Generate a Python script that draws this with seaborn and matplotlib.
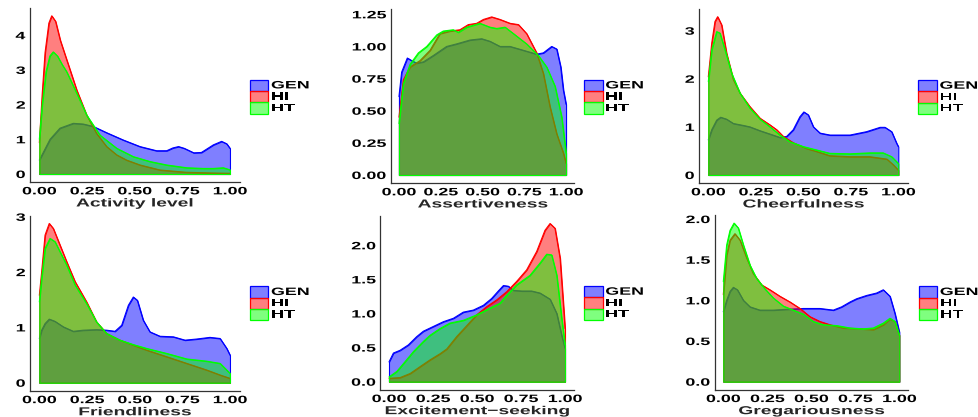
import matplotlib
matplotlib.use("Agg")
import matplotlib.pyplot as plt
import matplotlib.colors as mcolors
import pandas as pd
import seaborn as sns
from matplotlib.patches import Rectangle
from matplotlib.patheffects import AbstractPathEffect
from matplotlib.transforms import Affine2D

# ---------------------------------------------------------------- data
groups = ["GEN", "HI", "HT"]
group_colors = ["#0000FF", "#FF0000", "#00FF00"]

x_tick_values = [0.0, 0.25, 0.5, 0.75, 1.0]
x_tick_labels = ["0.00", "0.25", "0.50", "0.75", "1.00"]

# Activity level
activity_gen_x = [0, 0.056, 0.108, 0.178, 0.23, 0.283, 0.353, 0.44, 0.528, 0.615, 0.668, 0.70, 0.73, 0.76, 0.81, 0.85, 0.913, 0.956, 0.983, 1.0]
activity_gen_y = [0.40, 1.0, 1.32, 1.46, 1.44, 1.37, 1.19, 0.98, 0.79, 0.67, 0.67, 0.75, 0.79, 0.74, 0.61, 0.62, 0.84, 0.94, 0.87, 0.74]
activity_hi_x = [0, 0.015, 0.03, 0.05, 0.065, 0.085, 0.11, 0.143, 0.196, 0.248, 0.30, 0.353, 0.406, 0.458, 0.528, 0.633, 0.77, 0.9, 1.0]
activity_hi_y = [0.9, 2.3, 3.5, 4.35, 4.56, 4.4, 3.85, 3.3, 2.42, 1.70, 1.17, 0.79, 0.55, 0.40, 0.26, 0.115, 0.05, 0.03, 0.02]
activity_ht_x = [0, 0.015, 0.035, 0.055, 0.073, 0.095, 0.12, 0.143, 0.196, 0.248, 0.318, 0.406, 0.493, 0.58, 0.668, 0.773, 0.86, 0.913, 0.965, 1.0]
activity_ht_y = [1.0, 2.0, 2.95, 3.4, 3.52, 3.4, 3.15, 2.95, 2.33, 1.70, 1.12, 0.74, 0.50, 0.36, 0.26, 0.18, 0.16, 0.16, 0.18, 0.12]
activity_ticks = [0, 1, 2, 3, 4]
activity_tick_labels = ["0", "1", "2", "3", "4"]

# Assertiveness
assert_gen_x = [0, 0.016, 0.05, 0.076, 0.106, 0.146, 0.206, 0.285, 0.345, 0.425, 0.495, 0.545, 0.605, 0.665, 0.745, 0.824, 0.864, 0.914, 0.944, 0.968, 0.984, 1.0]
assert_gen_y = [0.61, 0.80, 0.91, 0.89, 0.87, 0.88, 0.93, 1.0, 1.02, 1.05, 1.06, 1.04, 1.0, 1.0, 0.97, 0.94, 0.95, 1.0, 0.98, 0.84, 0.66, 0.55]
assert_hi_x = [0, 0.026, 0.066, 0.126, 0.186, 0.245, 0.305, 0.365, 0.415, 0.465, 0.505, 0.555, 0.605, 0.665, 0.715, 0.764, 0.824, 0.864, 0.904, 0.944, 0.984, 1.0]
assert_hi_y = [0.45, 0.74, 0.84, 0.89, 0.97, 1.10, 1.12, 1.13, 1.17, 1.18, 1.21, 1.23, 1.21, 1.18, 1.17, 1.10, 0.95, 0.79, 0.53, 0.32, 0.17, 0.09]
assert_ht_x = [0, 0.026, 0.066, 0.116, 0.166, 0.226, 0.265, 0.325, 0.355, 0.405, 0.485, 0.545, 0.585, 0.635, 0.685, 0.764, 0.834, 0.884, 0.934, 0.974, 1.0]
assert_ht_y = [0.40, 0.71, 0.86, 0.95, 1.0, 1.09, 1.12, 1.13, 1.11, 1.15, 1.18, 1.15, 1.14, 1.15, 1.10, 1.02, 0.93, 0.84, 0.69, 0.45, 0.17]
assert_ticks = [0, 0.25, 0.5, 0.75, 1.0, 1.25]
assert_tick_labels = ["0.00", "0.25", "0.50", "0.75", "1.00", "1.25"]

# Cheerfulness
cheer_gen_x = [0, 0.018, 0.044, 0.065, 0.096, 0.132, 0.184, 0.219, 0.272, 0.325, 0.377, 0.412, 0.447, 0.482, 0.503, 0.526, 0.553, 0.588, 0.64, 0.746, 0.833, 0.904, 0.93, 0.965, 0.991, 1.0]
cheer_gen_y = [0.73, 0.94, 1.14, 1.20, 1.16, 1.07, 1.03, 1.0, 0.92, 0.85, 0.78, 0.80, 0.94, 1.21, 1.31, 1.25, 1.0, 0.87, 0.83, 0.83, 0.90, 0.99, 0.99, 0.90, 0.66, 0.59]
cheer_hi_x = [0, 0.018, 0.035, 0.049, 0.07, 0.096, 0.132, 0.167, 0.219, 0.272, 0.325, 0.36, 0.395, 0.447, 0.518, 0.57, 0.64, 0.746, 0.85, 0.94, 0.974, 1.0]
cheer_hi_y = [2.04, 2.74, 3.19, 3.29, 3.12, 2.53, 1.98, 1.70, 1.42, 1.18, 1.04, 0.94, 0.80, 0.67, 0.55, 0.49, 0.40, 0.38, 0.38, 0.33, 0.21, 0.10]
cheer_ht_x = [0, 0.018, 0.044, 0.061, 0.088, 0.123, 0.167, 0.219, 0.272, 0.325, 0.377, 0.43, 0.5, 0.57, 0.64, 0.746, 0.85, 0.92, 0.965, 1.0]
cheer_ht_y = [1.94, 2.6, 2.98, 2.95, 2.6, 2.11, 1.70, 1.39, 1.16, 1.0, 0.83, 0.69, 0.59, 0.52, 0.45, 0.44, 0.46, 0.46, 0.38, 0.24]
cheer_ticks = [0, 1, 2, 3]
cheer_tick_labels = ["0", "1", "2", "3"]

# Friendliness
friend_gen_x = [0, 0.012, 0.03, 0.052, 0.082, 0.126, 0.178, 0.23, 0.30, 0.353, 0.397, 0.432, 0.467, 0.493, 0.514, 0.545, 0.58, 0.633, 0.703, 0.764, 0.825, 0.895, 0.948, 0.983, 1.0]
friend_gen_y = [0.80, 0.95, 1.07, 1.15, 1.11, 1.01, 0.93, 0.95, 0.96, 0.95, 0.93, 1.04, 1.40, 1.55, 1.49, 1.13, 0.92, 0.84, 0.83, 0.77, 0.79, 0.82, 0.80, 0.62, 0.50]
friend_hi_x = [0, 0.012, 0.03, 0.052, 0.073, 0.108, 0.143, 0.187, 0.248, 0.30, 0.353, 0.423, 0.493, 0.563, 0.668, 0.773, 0.878, 0.948, 1.0]
friend_hi_y = [1.58, 2.0, 2.67, 2.88, 2.79, 2.49, 2.19, 1.83, 1.46, 1.10, 0.89, 0.77, 0.68, 0.59, 0.47, 0.35, 0.23, 0.14, 0.08]
friend_ht_x = [0, 0.012, 0.03, 0.056, 0.082, 0.108, 0.143, 0.187, 0.248, 0.30, 0.353, 0.423, 0.493, 0.563, 0.668, 0.773, 0.878, 0.948, 1.0]
friend_ht_y = [1.46, 1.89, 2.43, 2.61, 2.55, 2.37, 2.13, 1.77, 1.43, 1.10, 0.89, 0.77, 0.69, 0.62, 0.53, 0.43, 0.39, 0.35, 0.17]
friend_ticks = [0, 1, 2, 3]
friend_tick_labels = ["0", "1", "2", "3"]

# Excitement-seeking
excite_gen_x = [0, 0.025, 0.0625, 0.11, 0.157, 0.195, 0.252, 0.309, 0.366, 0.422, 0.479, 0.536, 0.583, 0.621, 0.65, 0.678, 0.706, 0.754, 0.81, 0.858, 0.915, 0.953, 0.981, 1.0]
excite_gen_y = [0.29, 0.42, 0.46, 0.54, 0.66, 0.74, 0.81, 0.88, 0.93, 1.02, 1.05, 1.12, 1.22, 1.33, 1.41, 1.40, 1.34, 1.33, 1.33, 1.30, 1.21, 1.0, 0.68, 0.49]
excite_hi_x = [0, 0.0625, 0.12, 0.176, 0.233, 0.29, 0.328, 0.384, 0.441, 0.498, 0.555, 0.612, 0.669, 0.725, 0.782, 0.839, 0.886, 0.915, 0.943, 0.972, 0.991, 1.0]
excite_hi_y = [0.05, 0.06, 0.12, 0.22, 0.32, 0.41, 0.48, 0.66, 0.82, 0.98, 1.10, 1.20, 1.32, 1.47, 1.64, 1.91, 2.22, 2.32, 2.25, 1.81, 1.12, 0.78]
excite_ht_x = [0, 0.044, 0.09, 0.138, 0.195, 0.233, 0.29, 0.347, 0.422, 0.498, 0.574, 0.63, 0.669, 0.725, 0.801, 0.858, 0.896, 0.924, 0.953, 0.981, 1.0]
excite_ht_y = [0.07, 0.15, 0.29, 0.44, 0.59, 0.68, 0.78, 0.86, 0.90, 0.98, 1.08, 1.15, 1.27, 1.42, 1.56, 1.74, 1.87, 1.86, 1.56, 0.93, 0.54]
excite_ticks = [0, 0.5, 1.0, 1.5, 2.0]
excite_tick_labels = ["0.0", "0.5", "1.0", "1.5", "2.0"]

# Gregariousness
greg_gen_x = [0, 0.019, 0.038, 0.057, 0.08, 0.114, 0.152, 0.208, 0.284, 0.36, 0.455, 0.549, 0.625, 0.672, 0.72, 0.758, 0.814, 0.871, 0.909, 0.947, 0.975, 1.0]
greg_gen_y = [0.86, 1.0, 1.11, 1.16, 1.13, 1.0, 0.92, 0.88, 0.88, 0.89, 0.90, 0.90, 0.88, 0.92, 0.98, 1.02, 1.06, 1.09, 1.13, 1.05, 0.84, 0.61]
greg_hi_x = [0, 0.019, 0.038, 0.066, 0.095, 0.133, 0.17, 0.218, 0.265, 0.322, 0.379, 0.436, 0.492, 0.549, 0.606, 0.682, 0.777, 0.852, 0.909, 0.947, 0.975, 1.0]
greg_hi_y = [1.07, 1.56, 1.74, 1.82, 1.74, 1.52, 1.33, 1.19, 1.13, 1.05, 0.98, 0.90, 0.80, 0.74, 0.70, 0.66, 0.65, 0.64, 0.70, 0.77, 0.74, 0.57]
greg_ht_x = [0, 0.019, 0.038, 0.061, 0.085, 0.114, 0.152, 0.189, 0.237, 0.284, 0.341, 0.398, 0.455, 0.511, 0.568, 0.644, 0.72, 0.795, 0.852, 0.909, 0.947, 0.975, 1.0]
greg_ht_y = [1.23, 1.68, 1.86, 1.95, 1.89, 1.68, 1.43, 1.27, 1.14, 1.03, 0.93, 0.88, 0.83, 0.74, 0.70, 0.69, 0.66, 0.65, 0.66, 0.72, 0.78, 0.74, 0.57]
greg_ticks = [0, 0.5, 1.0, 1.5, 2.0]
greg_tick_labels = ["0.0", "0.5", "1.0", "1.5", "2.0"]

# ---------------------------------------------------------------- style
sns.set_theme(style="white")
plt.rcParams["font.family"] = ["Liberation Sans", "DejaVu Sans"]
plt.rcParams["font.weight"] = "bold"

W, H = 979, 417
TEXT_STRETCH = 1.67
TICK_SIZE = 7.7
TITLE_SIZE = 8.3
AXIS_GREY = "#333333"


class WideText(AbstractPathEffect):
    """Draws text glyphs widened horizontally, keeping the given alignment."""

    def __init__(self, sx, anchor):
        super().__init__()
        self.sx = sx
        self.anchor = anchor

    def draw_path(self, renderer, gc, tpath, affine, rgbFace=None):
        ext = tpath.get_extents()
        shift = -(self.sx - 1.0) * ext.x1 * self.anchor
        t = Affine2D().scale(self.sx, 1.0).translate(shift, 0.0) + affine
        renderer.draw_path(gc, tpath, t, rgbFace)


def box(left, top, right, bottom):
    return [left / W, 1 - bottom / H, (right - left) / W, (bottom - top) / H]


fig = plt.figure(figsize=(W / 100, H / 100), dpi=100)
fig.patch.set_facecolor("white")


def draw_panel(rect, title, series, yticks, ylabels, legend_left, legend_mid):
    ax = fig.add_axes(box(*rect))
    frames = [pd.DataFrame({"x": xs, "density": ys, "group": g})
              for g, (xs, ys) in zip(groups, series)]
    df = pd.concat(frames, ignore_index=True)
    for i, (g, c) in enumerate(zip(groups, group_colors)):
        d = df[df["group"] == g]
        rgb = mcolors.to_rgb(c)
        ax.fill_between(d["x"], 0, d["density"], facecolor=(*rgb, 0.5),
                        edgecolor=rgb, linewidth=0.8, zorder=2 + i)
        sns.lineplot(data=d, x="x", y="density", color=c, linewidth=0.8,
                     estimator=None, sort=False, ax=ax, zorder=2 + i)
    ymax = df["density"].max()
    ax.set_xlim(-0.05, 1.05)
    ax.set_ylim(-0.05 * ymax, 1.05 * ymax)
    ax.set_xticks(x_tick_values)
    ax.set_xticklabels(x_tick_labels)
    ax.set_yticks(yticks)
    ax.set_yticklabels(ylabels)
    ax.grid(False)
    ax.set_facecolor("white")
    sns.despine(ax=ax)
    for side in ("left", "bottom"):
        ax.spines[side].set_color(AXIS_GREY)
        ax.spines[side].set_linewidth(0.9)
    ax.tick_params(axis="both", length=2, width=0.8, color=AXIS_GREY,
                   labelsize=TICK_SIZE, labelcolor="black", pad=1.2)
    ax.set_ylabel("")
    ax.set_xlabel(title, fontsize=TITLE_SIZE, fontweight="bold", labelpad=0.8)
    for t in ax.get_xticklabels():
        t.set_fontweight("bold")
        t.set_path_effects([WideText(TEXT_STRETCH, 0.5)])
    for t in ax.get_yticklabels():
        t.set_fontweight("bold")
        t.set_path_effects([WideText(TEXT_STRETCH, 1.0)])
    ax.xaxis.label.set_path_effects([WideText(TEXT_STRETCH, 0.5)])

    # legend: one filled key per group, stacked
    key_w, key_h = 18.5, 11.3
    top = legend_mid - 1.5 * key_h
    for i, (g, c) in enumerate(zip(groups, group_colors)):
        rgb = mcolors.to_rgb(c)
        y0 = top + i * key_h
        fig.add_artist(Rectangle(((legend_left) / W, 1 - (y0 + key_h) / H),
                                 key_w / W, key_h / H, transform=fig.transFigure,
                                 facecolor=(*rgb, 0.5), edgecolor=rgb, linewidth=0.9))
        fig.text((legend_left + key_w + 2.5) / W, 1 - (y0 + key_h / 2) / H, g,
                 fontsize=TICK_SIZE, fontweight="bold", ha="left", va="center",
                 color="black", path_effects=[WideText(TEXT_STRETCH, 0.0)])
    return ax


draw_panel((29.8, 7.9, 239.5, 181.9), "Activity level",
           [(activity_gen_x, activity_gen_y), (activity_hi_x, activity_hi_y), (activity_ht_x, activity_ht_y)],
           activity_ticks, activity_tick_labels, 250, 96.7)
draw_panel((390.6, 9.0, 574.4, 182.9), "Assertiveness",
           [(assert_gen_x, assert_gen_y), (assert_hi_x, assert_hi_y), (assert_ht_x, assert_ht_y)],
           assert_ticks, assert_tick_labels, 584.3, 96.7)
draw_panel((698.8, 8.8, 907.8, 182.9), "Cheerfulness",
           [(cheer_gen_x, cheer_gen_y), (cheer_hi_x, cheer_hi_y), (cheer_ht_x, cheer_ht_y)],
           cheer_ticks, cheer_tick_labels, 918.5, 97.0)
draw_panel((29.8, 215.5, 239.5, 390.7), "Friendliness",
           [(friend_gen_x, friend_gen_y), (friend_hi_x, friend_hi_y), (friend_ht_x, friend_ht_y)],
           friend_ticks, friend_tick_labels, 250, 303.3)
draw_panel((380.2, 215.6, 573.8, 389.6), "Excitement\u2212seeking",
           [(excite_gen_x, excite_gen_y), (excite_hi_x, excite_hi_y), (excite_ht_x, excite_ht_y)],
           excite_ticks, excite_tick_labels, 584.3, 303.0)
draw_panel((714.5, 215.2, 908.1, 389.6), "Gregariousness",
           [(greg_gen_x, greg_gen_y), (greg_hi_x, greg_hi_y), (greg_ht_x, greg_ht_y)],
           greg_ticks, greg_tick_labels, 918.8, 303.3)

fig.savefig("out.png", dpi=100, facecolor="white")
